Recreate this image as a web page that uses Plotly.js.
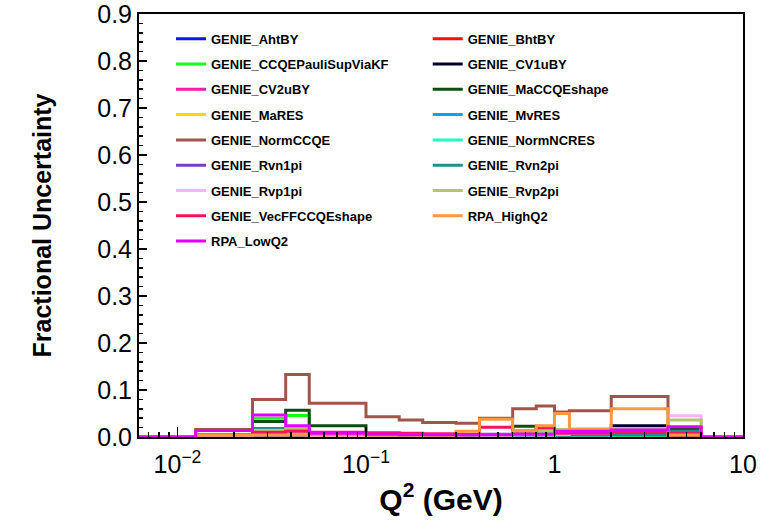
<!DOCTYPE html>
<html><head><meta charset="utf-8">
<script src="https://cdn.plot.ly/plotly-3.0.1.min.js"></script>
<style>body{margin:0;padding:0;background:#fff}#chart{width:784px;height:521px}</style>
</head><body><div id="chart"></div>
<script>
// Q2 bin edges (GeV)
const binEdges = [0.00625,0.0125,0.025,0.0375,0.05,0.1,0.15,0.2,0.3,0.4,0.6,0.8,1.0,1.2,2.0,4.0,6.0,8.0,10.0];

const seriesNames = ["GENIE_AhtBY","GENIE_BhtBY","GENIE_CCQEPauliSupViaKF","GENIE_CV1uBY","GENIE_CV2uBY",
  "GENIE_MaCCQEshape","GENIE_MaRES","GENIE_MvRES","GENIE_NormCCQE","GENIE_NormNCRES","GENIE_Rvn1pi",
  "GENIE_Rvn2pi","GENIE_Rvp1pi","GENIE_Rvp2pi","GENIE_VecFFCCQEshape","RPA_HighQ2","RPA_LowQ2"];
const seriesColors = ["#0a14f5","#ff0d0d","#1aff1a","#000033","#ff1aa8","#0d4d0d","#ffd500","#00a2ff",
  "#a0554a","#1affc8","#7340bf","#268c8c","#ffb3ff","#b3c766","#f2145a","#ff9640","#e000ff"];

// fractional uncertainty per bin (18 bins)
const GENIE_AhtBY          = [0,0.002,0.006,0.005,0.002,0.001,0.001,0.001,0.002,0.003,0.004,0.004,0.005,0.006,0.008,0.006,0,0];
const GENIE_BhtBY          = [0,0.002,0.005,0.005,0.002,0.001,0.001,0.001,0.002,0.003,0.004,0.004,0.005,0.006,0.008,0.006,0,0];
const GENIE_CCQEPauliSupViaKF = [0,0.003,0.040,0.046,0.004,0.002,0.001,0.001,0.001,0.001,0.001,0.001,0.001,0.001,0.001,0.001,0,0];
const GENIE_CV1uBY         = [0,0.002,0.016,0.012,0.003,0.002,0.002,0.002,0.002,0.003,0.004,0.005,0.008,0.012,0.024,0.012,0,0];
const GENIE_CV2uBY         = [0,0.002,0.008,0.008,0.003,0.002,0.002,0.002,0.002,0.003,0.004,0.005,0.006,0.008,0.012,0.010,0,0];
const GENIE_MaCCQEshape    = [0,0.002,0.033,0.057,0.024,0.001,0.001,0.001,0.002,0.003,0.023,0.010,0.004,0.004,0.006,0.016,0,0];
const GENIE_MaRES          = [0,0.001,0.005,0.004,0.002,0.002,0.002,0.002,0.002,0.003,0.004,0.004,0.005,0.006,0.006,0.006,0,0];
const GENIE_MvRES          = [0,0.001,0.004,0.004,0.002,0.001,0.001,0.001,0.002,0.003,0.004,0.008,0.004,0.004,0.004,0.004,0,0];
const GENIE_NormCCQE       = [0,0.016,0.080,0.133,0.072,0.043,0.036,0.031,0.029,0.040,0.060,0.066,0.053,0.056,0.086,0.001,0,0];
const GENIE_NormNCRES      = [0,0.002,0.012,0.018,0.003,0.002,0.002,0.002,0.002,0.003,0.003,0.004,0.004,0.004,0.006,0.010,0,0];
const GENIE_Rvn1pi         = [0,0.001,0.004,0.004,0.002,0.002,0.002,0.002,0.003,0.006,0.005,0.005,0.005,0.006,0.006,0.006,0,0];
const GENIE_Rvn2pi         = [0,0.002,0.018,0.012,0.002,0.002,0.001,0.001,0.002,0.002,0.002,0.003,0.004,0.005,0.008,0.012,0,0];
const GENIE_Rvp1pi         = [0,0.002,0.014,0.010,0.002,0.002,0.002,0.002,0.002,0.003,0.004,0.004,0.006,0.008,0.012,0.045,0,0];
const GENIE_Rvp2pi         = [0,0.004,0.013,0.020,0.005,0.003,0.003,0.003,0.003,0.004,0.010,0.012,0.016,0.012,0.018,0.036,0,0];
const GENIE_VecFFCCQEshape = [0,0.005,0.010,0.012,0.010,0.009,0.008,0.007,0.006,0.021,0.013,0.019,0.008,0.008,0.010,0.008,0,0];
const RPA_HighQ2           = [0,0.004,0.004,0.004,0.004,0.004,0.004,0.004,0.012,0.038,0.014,0.024,0.050,0.017,0.060,0.004,0,0];
const RPA_LowQ2            = [0,0.014,0.047,0.024,0.008,0.006,0.005,0.005,0.004,0.005,0.006,0.006,0.012,0.012,0.015,0.022,0,0];

const seriesValues = [GENIE_AhtBY,GENIE_BhtBY,GENIE_CCQEPauliSupViaKF,GENIE_CV1uBY,GENIE_CV2uBY,
  GENIE_MaCCQEshape,GENIE_MaRES,GENIE_MvRES,GENIE_NormCCQE,GENIE_NormNCRES,GENIE_Rvn1pi,
  GENIE_Rvn2pi,GENIE_Rvp1pi,GENIE_Rvp2pi,GENIE_VecFFCCQEshape,RPA_HighQ2,RPA_LowQ2];

const xTickVals = [0.01,0.1,1,10];
const xTickText = ["10<sup>\u22122</sup>","10<sup>\u22121</sup>","1","10"];

const FONT = "Liberation Sans, Arial, Helvetica, sans-serif";

const traces = seriesNames.map((name,i)=>{
  const vals = seriesValues[i];
  return {
    type:"scatter", mode:"lines", name:name,
    x: binEdges.slice(),
    y: vals.concat([vals[vals.length-1]]),
    line:{shape:"hv", width:3, color:seriesColors[i]},
    legend: (i%2===0) ? "legend" : "legend2",
    legendgroup: "g"+i,
    hoverinfo:"x+y+name"
  };
});

const minorX = [];
[0.001,0.01,0.1,1].forEach(d=>{ for(let k=2;k<=9;k++){ const v=+(k*d).toPrecision(3); if(v>0.00625 && v<10) minorX.push(v);} });

const legendCommon = {
  bgcolor:"rgba(0,0,0,0)", borderwidth:0, traceorder:"grouped", tracegroupgap:5.4,
  font:{family:FONT, size:13, color:"#000", weight:"bold"},
  xanchor:"left", yanchor:"top", itemwidth:30
};

const layout = {
  width:784, height:521,
  margin:{l:139, r:41, t:14, b:84, pad:0},
  paper_bgcolor:"#fff", plot_bgcolor:"#fff",
  font:{family:FONT, color:"#000"},
  showlegend:true,
  legend: Object.assign({}, legendCommon, {x:0.053, y:0.977}),
  legend2: Object.assign({}, legendCommon, {x:0.478, y:0.977}),
  xaxis:{
    type:"log", range:[Math.log10(0.00625), 1],
    tickmode:"array", tickvals:xTickVals, ticktext:xTickText,
    ticks:"inside", ticklen:10, tickwidth:1.5, tickcolor:"#000",
    ticklabelstandoff:4, ticklabeloverflow:"allow",
    minor:{tickmode:"array", tickvals:minorX, ticks:"inside", ticklen:5, tickwidth:1.5, tickcolor:"#000"},
    showline:true, linecolor:"#000", linewidth:2, mirror:true,
    showgrid:false, zeroline:false,
    tickfont:{family:FONT, size:25, color:"#000"},
    title:{text:"<b>Q<sup>2</sup> (GeV)</b>", font:{family:FONT, size:30, color:"#000"}, standoff:11},
    automargin:false
  },
  yaxis:{
    range:[0,0.9], tickmode:"linear", tick0:0, dtick:0.1, tickformat:".1f",
    ticks:"inside", ticklen:8, tickwidth:1.5, tickcolor:"#000",
    ticklabeloverflow:"allow",
    minor:{dtick:0.02, ticks:"inside", ticklen:4, tickwidth:1.5, tickcolor:"#000"},
    showline:true, linecolor:"#000", linewidth:2, mirror:true,
    showgrid:false, zeroline:false,
    tickfont:{family:FONT, size:25, color:"#000"},
    title:{text:"<b>Fractional Uncertainty</b>", font:{family:FONT, size:25, color:"#000"}, standoff:38},
    automargin:false
  }
};

Plotly.newPlot("chart", traces, layout, {displayModeBar:false, staticPlot:true});
</script>
</body></html>
